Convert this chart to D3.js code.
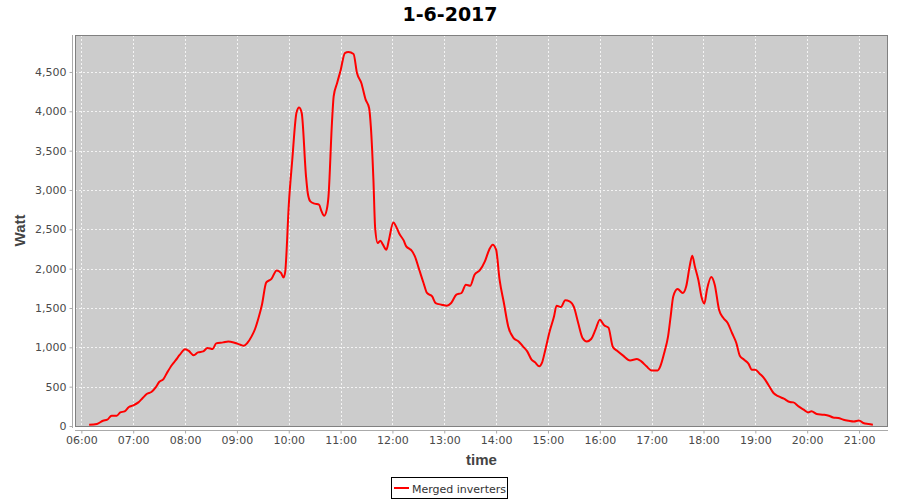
<!DOCTYPE html>
<html><head><meta charset="utf-8">
<script src="https://cdn.jsdelivr.net/npm/d3@7"></script>
<style>body{margin:0;background:#fff}svg{display:block}text{font-family:"DejaVu Sans",sans-serif}</style>
</head><body><svg id="c" width="900" height="500"></svg>
<script>
const title = "1-6-2017";
const seriesName = "Merged inverters";
const yTicks = [0,500,1000,1500,2000,2500,3000,3500,4000,4500];
const times = ["06:09","06:18","06:25","06:30","06:35","06:41","06:45","06:50","06:55","07:00","07:06","07:11","07:16","07:21","07:26","07:30","07:35","07:39","07:45","07:49","07:54","08:00","08:04","08:10","08:15","08:21","08:26","08:32","08:36","08:44","08:50","08:58","09:04","09:08","09:12","09:17","09:21","09:25","09:29","09:34","09:40","09:46","09:51","09:54","09:56","09:57","10:00","10:04","10:09","10:12","10:15","10:20","10:22","10:25","10:30","10:35","10:38","10:41","10:44","10:46","10:50","10:52","10:56","11:00","11:05","11:09","11:15","11:19","11:24","11:29","11:33","11:35","11:38","11:40","11:43","11:46","11:49","11:53","11:56","12:01","12:05","12:08","12:13","12:16","12:20","12:22","12:26","12:31","12:36","12:40","12:46","12:50","12:57","13:03","13:08","13:14","13:20","13:25","13:30","13:35","13:41","13:47","13:52","13:56","14:00","14:04","14:09","14:14","14:20","14:26","14:31","14:36","14:41","14:45","14:50","14:53","14:57","15:02","15:07","15:10","15:15","15:20","15:25","15:30","15:35","15:40","15:45","15:50","15:55","16:00","16:05","16:10","16:15","16:20","16:27","16:35","16:43","16:48","16:54","17:00","17:07","17:10","17:15","17:19","17:22","17:25","17:30","17:36","17:40","17:44","17:47","17:50","17:54","17:58","18:01","18:04","18:09","18:13","18:18","18:23","18:28","18:33","18:38","18:42","18:47","18:52","18:56","19:00","19:05","19:10","19:15","19:21","19:27","19:33","19:40","19:44","19:50","19:56","20:01","20:05","20:11","20:19","20:25","20:30","20:36","20:42","20:48","20:54","21:00","21:05","21:11","21:16"];
const watts = [16,25,67,80,131,131,173,186,242,262,300,356,410,432,491,559,597,674,779,834,906,975,957,900,936,948,991,979,1050,1063,1075,1055,1033,1021,1055,1139,1233,1373,1542,1825,1869,1978,1945,1889,1965,2123,2800,3372,3986,4050,3979,3173,2962,2855,2826,2813,2728,2673,2750,2919,3852,4190,4360,4520,4741,4754,4729,4487,4360,4148,4042,3808,3131,2517,2326,2355,2305,2241,2368,2588,2517,2444,2359,2283,2250,2232,2156,1987,1818,1691,1647,1563,1542,1529,1563,1669,1691,1796,1783,1923,1978,2092,2241,2305,2241,1860,1563,1266,1119,1075,1012,948,843,809,758,801,970,1203,1393,1529,1513,1597,1584,1513,1309,1119,1075,1106,1224,1351,1280,1250,1008,955,894,834,852,821,758,707,707,758,948,1139,1393,1647,1741,1691,1775,2029,2165,2029,1860,1627,1555,1733,1894,1796,1478,1373,1309,1182,1055,894,843,792,716,716,665,610,525,419,376,347,305,300,249,207,173,186,153,144,131,109,102,80,67,58,71,38,25,16];

const parse = d3.timeParse("%Y-%m-%d %H:%M");
const data = times.map((t,i)=>({t:parse("2017-06-01 "+t), v:watts[i]}));

const svg = d3.select("#c");
const L=75, R=888, T=35, B=426;
const x = d3.scaleTime().domain([parse("2017-06-01 05:52").getTime()+38000, parse("2017-06-01 21:33").getTime()+32000]).range([L,R]);
const y = d3.scaleLinear().domain([0,4970]).range([B,T]);

svg.append("rect").attr("x",L).attr("y",T).attr("width",R-L).attr("height",B-T).attr("fill","#cccccc");

const hours = x.ticks(d3.timeHour.every(1));
svg.append("g").selectAll("line").data(hours).join("line")
  .attr("x1",d=>Math.round(x(d))+0.5).attr("x2",d=>Math.round(x(d))+0.5).attr("y1",T).attr("y2",B)
  .attr("stroke","#f4f4f4").attr("stroke-width",1).attr("stroke-dasharray","2,2");
svg.append("g").selectAll("line").data(yTicks).join("line")
  .attr("y1",d=>Math.round(y(d))+0.5).attr("y2",d=>Math.round(y(d))+0.5).attr("x1",L).attr("x2",R)
  .attr("stroke","#f4f4f4").attr("stroke-width",1).attr("stroke-dasharray","2,2");

const line = d3.line().x(d=>x(d.t)).y(d=>y(d.v)).curve(d3.curveMonotoneX);
svg.append("path").datum(data).attr("d",line).attr("fill","none").attr("stroke","#ff0000").attr("stroke-width",2).attr("stroke-linejoin","round");

svg.append("rect").attr("x",L+0.5).attr("y",T+0.5).attr("width",R-L-1).attr("height",B-T).attr("fill","none").attr("stroke","#808080");

const yAxis = d3.axisLeft(y).tickValues(yTicks).tickFormat(d3.format(",")).tickSize(3).tickPadding(3);
const ga = svg.append("g").attr("transform","translate(72.5,0)").call(yAxis);
ga.select(".domain").attr("d",`M0,${T}V${B+2}`).attr("stroke","#aaaaaa");
ga.selectAll(".tick line").attr("stroke","#aaaaaa");
ga.selectAll("text").attr("font-size","11px").attr("fill","#4a4a4a").style("font-family","DejaVu Sans");

const xAxis = d3.axisBottom(x).ticks(d3.timeHour.every(1)).tickFormat(d3.timeFormat("%H:%M")).tickSize(3).tickPadding(3);
const gx = svg.append("g").attr("transform","translate(0,430.5)").call(xAxis);
gx.select(".domain").attr("d",`M${L},0H${R}`).attr("stroke","#aaaaaa");
gx.selectAll(".tick line").attr("stroke","#aaaaaa");
gx.selectAll("text").attr("font-size","11px").attr("fill","#4a4a4a").style("font-family","DejaVu Sans");

svg.append("text").attr("x",450).attr("y",21).attr("text-anchor","middle").attr("font-size","19px").attr("font-weight","bold").attr("fill","#000").text(title);
svg.append("text").attr("transform",`translate(25,${(T+B)/2}) rotate(-90)`).attr("text-anchor","middle").attr("font-size","15px").attr("font-weight","bold").attr("fill","#444").style("font-family","Liberation Sans").text("Watt");
svg.append("text").attr("x",(L+R)/2).attr("y",465).attr("text-anchor","middle").attr("font-size","15px").attr("font-weight","bold").attr("fill","#444").style("font-family","Liberation Sans").text("time");

const lg = svg.append("g");
lg.append("rect").attr("x",391.5).attr("y",477.5).attr("width",116).attr("height",21).attr("fill","#fff").attr("stroke","#000");
lg.append("line").attr("x1",394).attr("x2",409).attr("y1",488).attr("y2",488).attr("stroke","#ff0000").attr("stroke-width",2);
lg.append("text").attr("x",412).attr("y",492.5).attr("font-size","11px").attr("fill","#333").text(seriesName);
</script></body></html>
